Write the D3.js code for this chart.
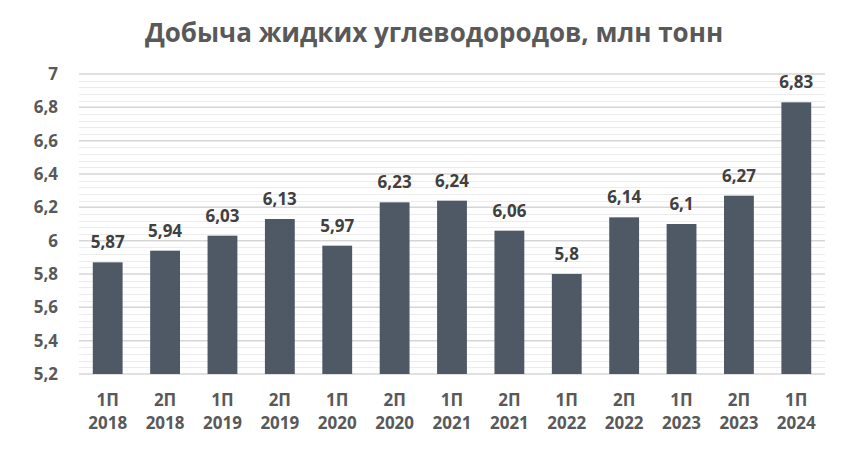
<!DOCTYPE html>
<html>
<head>
<meta charset="utf-8">
<script src="https://cdn.jsdelivr.net/npm/d3@7"></script>
<style>
  body { margin: 0; background: #fff; }
  svg { display: block; font-family: 'Open Sans', sans-serif; }
</style>
</head>
<body>
<svg id="chart" width="868" height="449"></svg>
<script>
const periods = ['1П', '2П', '1П', '2П', '1П', '2П', '1П', '2П', '1П', '2П', '1П', '2П', '1П'];
const years = ['2018', '2018', '2019', '2019', '2020', '2020', '2021', '2021', '2022', '2022', '2023', '2023', '2024'];
const values = [5.87, 5.94, 6.03, 6.13, 5.97, 6.23, 6.24, 6.06, 5.8, 6.14, 6.1, 6.27, 6.83];
const yTicks = [5.2, 5.4, 5.6, 5.8, 6, 6.2, 6.4, 6.6, 6.8, 7];

const width = 868, height = 449;
const margin = { top: 74, right: 43, bottom: 75, left: 79 };
const fmt = v => String(v).replace('.', ',');

const svg = d3.select('#chart');
const idx = d3.range(values.length);

const x = d3.scaleBand()
    .domain(idx)
    .range([margin.left, width - margin.right])
    .paddingInner(0.48)
    .paddingOuter(0.24);

const y = d3.scaleLinear()
    .domain([5.2, 7])
    .range([height - margin.bottom, margin.top]);

// minor grid
svg.append('g')
    .selectAll('line')
    .data(d3.range(5.2, 7.0001, 0.04).filter(v => Math.abs(Math.round(v * 5) - v * 5) > 0.01))
    .enter().append('line')
    .attr('x1', margin.left)
    .attr('x2', width - margin.right)
    .attr('y1', d => Math.round(y(d)) + 0.5)
    .attr('y2', d => Math.round(y(d)) + 0.5)
    .style('stroke', '#ececec')
    .style('stroke-width', 1);

// major grid
svg.append('g')
    .selectAll('line')
    .data(yTicks)
    .enter().append('line')
    .attr('x1', margin.left)
    .attr('x2', width - margin.right)
    .attr('y1', d => y(d))
    .attr('y2', d => y(d))
    .style('stroke', '#d6d6d6')
    .style('stroke-width', 1.5);

// y axis labels
const yAxis = svg.append('g')
    .attr('transform', `translate(${margin.left - 18},0)`)
    .call(d3.axisLeft(y).tickValues(yTicks).tickFormat(fmt).tickSize(0));
yAxis.select('.domain').remove();
yAxis.selectAll('text')
    .style('font-family', 'Open Sans, sans-serif')
    .style('font-size', '17px')
    .style('font-weight', 'bold')
    .style('fill', '#595959');

// bars
svg.append('g')
    .selectAll('rect')
    .data(idx)
    .enter().append('rect')
    .attr('x', i => x(i))
    .attr('width', x.bandwidth())
    .attr('y', i => y(values[i]))
    .attr('height', i => y(5.2) - y(values[i]))
    .style('fill', '#4f5966');

// value labels
svg.append('g')
    .selectAll('text')
    .data(idx)
    .enter().append('text')
    .attr('x', i => x(i) + x.bandwidth() / 2)
    .attr('y', i => y(values[i]) - 14)
    .attr('text-anchor', 'middle')
    .style('font-size', '17px')
    .style('font-weight', 'bold')
    .style('fill', '#404040')
    .text(i => fmt(values[i]));

// x labels
const xl = svg.append('g')
    .selectAll('text')
    .data(idx)
    .enter().append('text')
    .attr('text-anchor', 'middle')
    .style('font-size', '17px')
    .style('font-weight', 'bold')
    .style('fill', '#595959');
xl.append('tspan')
    .attr('x', i => x(i) + x.bandwidth() / 2)
    .attr('y', 405.5)
    .text(i => periods[i]);
xl.append('tspan')
    .attr('x', i => x(i) + x.bandwidth() / 2)
    .attr('y', 429)
    .text(i => years[i]);

// title
svg.append('text')
    .attr('x', 434)
    .attr('y', 42)
    .attr('text-anchor', 'middle')
    .style('font-size', '26px')
    .style('font-weight', 'bold')
    .style('fill', '#595959')
    .text('Добыча жидких углеводородов, млн тонн');
</script>
</body>
</html>
